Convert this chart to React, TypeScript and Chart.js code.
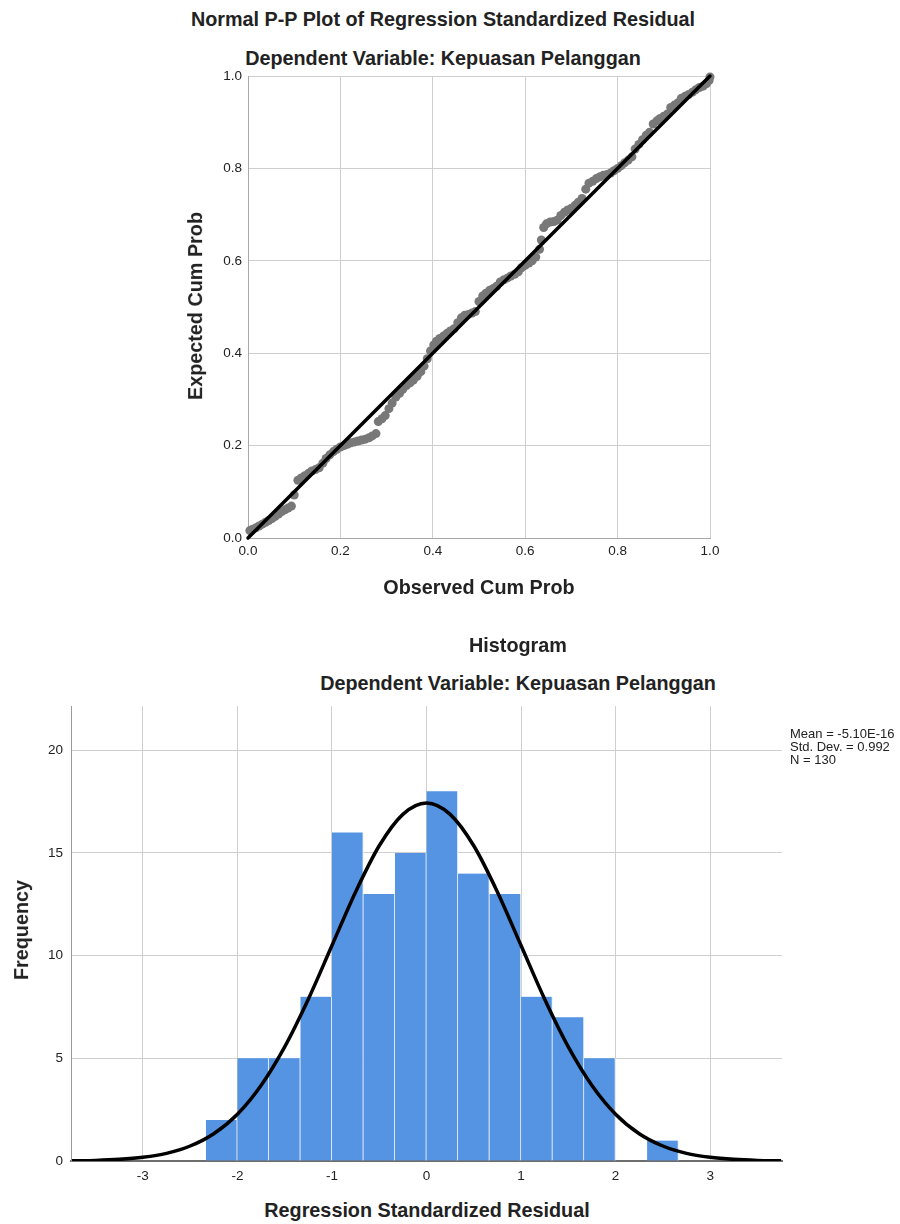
import React, { useEffect, useRef } from "react";
import { Chart, registerables } from "chart.js";

Chart.register(...registerables);

// ---------- P-P plot data ----------
const observedCumProb = [
  0.004, 0.01, 0.017, 0.024, 0.031, 0.038, 0.045, 0.052, 0.059, 0.066, 0.073, 0.08, 0.087, 0.094, 0.1,
  0.108, 0.115, 0.123, 0.131, 0.138, 0.146, 0.154, 0.162, 0.169, 0.177, 0.185, 0.192, 0.2, 0.208, 0.215, 0.223, 0.231,
  0.238, 0.246, 0.254, 0.262, 0.269, 0.277,
  0.282, 0.29, 0.297, 0.305, 0.312,
  0.32, 0.328, 0.335, 0.343, 0.351, 0.358, 0.366, 0.374, 0.381, 0.388,
  0.395, 0.402, 0.408, 0.415, 0.423, 0.431, 0.438, 0.446,
  0.454, 0.462, 0.469, 0.477, 0.485, 0.492,
  0.5, 0.508, 0.515, 0.523, 0.531, 0.538,
  0.546, 0.554, 0.562, 0.569, 0.577, 0.585,
  0.592, 0.6, 0.608, 0.615, 0.623, 0.631, 0.635,
  0.64, 0.646, 0.654, 0.662, 0.669,
  0.677, 0.685, 0.692, 0.7, 0.708, 0.715, 0.723,
  0.731, 0.738, 0.746, 0.754, 0.762, 0.769, 0.777, 0.785, 0.792,
  0.8, 0.808, 0.815, 0.823, 0.831,
  0.838, 0.846, 0.854, 0.862, 0.869,
  0.877, 0.885, 0.892, 0.9, 0.908,
  0.915, 0.923, 0.931,
  0.938, 0.946, 0.954, 0.962, 0.969, 0.977,
  0.985, 0.992, 0.998, 1.0,
];
const expectedCumProb = [
  0.016, 0.019, 0.022, 0.026, 0.03, 0.034, 0.038, 0.042, 0.047, 0.052, 0.057, 0.061, 0.065, 0.069, 0.093,
  0.125, 0.13, 0.135, 0.14, 0.145, 0.148, 0.152, 0.162, 0.172, 0.18, 0.187, 0.192, 0.197, 0.2, 0.203, 0.206, 0.208,
  0.21, 0.212, 0.214, 0.217, 0.221, 0.226,
  0.252, 0.258, 0.265, 0.28, 0.292,
  0.305, 0.313, 0.322, 0.33, 0.336, 0.342, 0.35, 0.36, 0.372, 0.388,
  0.405, 0.418, 0.426, 0.432, 0.437, 0.443, 0.448, 0.453,
  0.466, 0.477, 0.482, 0.484, 0.487, 0.49,
  0.512, 0.524, 0.53, 0.536, 0.54, 0.545,
  0.554, 0.559, 0.563, 0.567, 0.571, 0.576,
  0.585, 0.59, 0.595, 0.6, 0.608, 0.625, 0.645,
  0.672, 0.68, 0.684, 0.685, 0.688,
  0.698, 0.705, 0.71, 0.714, 0.72, 0.727, 0.735,
  0.755, 0.768, 0.772, 0.778, 0.782, 0.785, 0.787, 0.79, 0.795,
  0.8, 0.806, 0.812, 0.818, 0.825,
  0.842, 0.852, 0.862, 0.872, 0.878,
  0.896, 0.903, 0.908, 0.913, 0.918,
  0.932, 0.937, 0.942,
  0.952, 0.956, 0.96, 0.965, 0.97, 0.975,
  0.978, 0.983, 0.99, 0.998,
];
const refLineX = [0, 1];
const refLineY = [0, 1];

// ---------- Histogram data ----------
const binLowerEdges = [
  -2.3333, -2.0, -1.6667, -1.3333, -1.0, -0.6667, -0.3333, 0.0, 0.3333, 0.6667, 1.0, 1.3333, 1.6667, 2.0, 2.3333,
];
const binWidth = 1 / 3;
const frequencies = [2, 5, 5, 8, 16, 13, 15, 18, 14, 13, 8, 7, 5, 0, 1];
const curveX = [
  -3.75, -3.5, -3.25, -3.0, -2.75, -2.5, -2.25, -2.0, -1.75, -1.5, -1.25, -1.0, -0.75, -0.5, -0.25, 0,
  0.25, 0.5, 0.75, 1.0, 1.25, 1.5, 1.75, 2.0, 2.25, 2.5, 2.75, 3.0, 3.25, 3.5, 3.75,
];
const curveY = [
  0.01, 0.03, 0.08, 0.18, 0.37, 0.73, 1.33, 2.28, 3.68, 5.56, 7.88, 10.49, 13.1, 15.35, 16.88, 17.43,
  16.88, 15.35, 13.1, 10.49, 7.88, 5.56, 3.68, 2.28, 1.33, 0.73, 0.37, 0.18, 0.08, 0.03, 0.01,
];
const statsLines = ["Mean = -5.10E-16", "Std. Dev. = 0.992", "N = 130"];

const FONT = '"Liberation Sans", Arial, Helvetica, sans-serif';
const GRID = "#cfcfcf";
const TEXT = "#222222";
const TICK_SIZE = 13.5;

const boldText: React.CSSProperties = {
  position: "absolute",
  fontFamily: FONT,
  fontWeight: "bold",
  fontSize: 19.8,
  color: TEXT,
  whiteSpace: "nowrap",
  transform: "translate(-50%, -50%)",
  lineHeight: 1,
};

export default function App() {
  const ppRef = useRef<HTMLCanvasElement>(null);
  const histRef = useRef<HTMLCanvasElement>(null);

  useEffect(() => {
    document.body.style.margin = "0";
    Chart.defaults.font.family = FONT;

    const pp = new Chart(ppRef.current!, {
      type: "scatter",
      data: {
        datasets: [
          {
            type: "line",
            data: refLineX.map((x, i) => ({ x, y: refLineY[i] })),
            borderColor: "#000000",
            borderWidth: 3.5,
            pointRadius: 0,
            borderCapStyle: "round",
            clip: false as any,
            order: 0,
          } as any,
          {
            type: "scatter",
            data: observedCumProb.map((x, i) => ({ x, y: expectedCumProb[i] })),
            backgroundColor: "#787878",
            borderColor: "#787878",
            borderWidth: 0,
            pointRadius: 4.5,
            clip: false as any,
            order: 1,
          } as any,
        ],
      },
      options: {
        responsive: false,
        animation: false,
        layout: { padding: { left: 0, right: 40, top: 16, bottom: 0 } },
        plugins: { legend: { display: false }, tooltip: { enabled: false } },
        scales: {
          x: {
            type: "linear",
            min: 0,
            max: 1,
            afterFit: (s: any) => {
              s.height = 52;
            },
            grid: { color: GRID, drawTicks: false, lineWidth: 1 },
            border: { color: "#a8a8a8", width: 1 },
            ticks: {
              stepSize: 0.2,
              padding: 5,
              color: TEXT,
              font: { size: TICK_SIZE },
              callback: (v: any) => Number(v).toFixed(1),
            },
          },
          y: {
            type: "linear",
            min: 0,
            max: 1,
            afterFit: (s: any) => {
              s.width = 98;
            },
            grid: { color: GRID, drawTicks: false, lineWidth: 1 },
            border: { color: "#a8a8a8", width: 1 },
            ticks: {
              stepSize: 0.2,
              padding: 6,
              color: TEXT,
              font: { size: TICK_SIZE },
              callback: (v: any) => Number(v).toFixed(1),
            },
          },
        },
      },
    });

    const hist = new Chart(histRef.current!, {
      type: "bar",
      data: {
        datasets: [
          {
            type: "line",
            data: curveX.map((x, i) => ({ x, y: curveY[i] })),
            borderColor: "#000000",
            borderWidth: 3.5,
            pointRadius: 0,
            cubicInterpolationMode: "monotone",
            order: 0,
          } as any,
          {
            type: "bar",
            data: binLowerEdges.map((e, i) => ({ x: e + binWidth / 2, y: frequencies[i] })),
            backgroundColor: "#5594e3",
            borderColor: "#eaf1fb",
            borderWidth: { left: 0, right: 1.2, top: 0, bottom: 0 },
            borderSkipped: false,
            barPercentage: 1,
            categoryPercentage: 1,
            order: 1,
          } as any,
        ],
      },
      options: {
        responsive: false,
        animation: false,
        layout: { padding: { left: 0, right: 18, top: 10, bottom: 0 } },
        plugins: { legend: { display: false }, tooltip: { enabled: false } },
        scales: {
          x: {
            type: "linear",
            min: -3.76,
            max: 3.76,
            offset: false,
            afterFit: (s: any) => {
              s.height = 29;
            },
            grid: { color: GRID, drawTicks: false, offset: false, lineWidth: 1 },
            border: { color: "#6e6e6e", width: 2 },
            ticks: {
              stepSize: 1,
              includeBounds: false,
              padding: 7,
              color: TEXT,
              font: { size: TICK_SIZE },
              callback: (v: any) => String(v),
            },
          },
          y: {
            type: "linear",
            min: 0,
            max: 22.15,
            afterFit: (s: any) => {
              s.width = 71;
            },
            grid: { color: GRID, drawTicks: false, lineWidth: 1 },
            border: { color: "#9a9a9a", width: 1 },
            ticks: {
              stepSize: 5,
              includeBounds: false,
              padding: 8,
              color: TEXT,
              font: { size: TICK_SIZE },
            },
          },
        },
      },
    });

    return () => {
      pp.destroy();
      hist.destroy();
    };
  }, []);

  return (
    <div style={{ position: "relative", width: 900, height: 1224, background: "#ffffff", overflow: "hidden" }}>
      <div style={{ ...boldText, left: 443, top: 20 }}>Normal P-P Plot of Regression Standardized Residual</div>
      <div style={{ ...boldText, left: 443, top: 59 }}>Dependent Variable: Kepuasan Pelanggan</div>
      <canvas
        ref={ppRef}
        width={600}
        height={530}
        style={{ position: "absolute", left: 150, top: 60, width: 600, height: 530 }}
      />
      <div style={{ ...boldText, left: 196, top: 306, transform: "translate(-50%, -50%) rotate(-90deg)" }}>
        Expected Cum Prob
      </div>
      <div style={{ ...boldText, left: 479, top: 588 }}>Observed Cum Prob</div>

      <div style={{ ...boldText, left: 518, top: 646 }}>Histogram</div>
      <div style={{ ...boldText, left: 518, top: 684 }}>Dependent Variable: Kepuasan Pelanggan</div>
      <canvas
        ref={histRef}
        width={800}
        height={500}
        style={{ position: "absolute", left: 0, top: 690, width: 800, height: 500 }}
      />
      <div style={{ ...boldText, left: 22, top: 930, transform: "translate(-50%, -50%) rotate(-90deg)" }}>Frequency</div>
      <div style={{ ...boldText, left: 427, top: 1211 }}>Regression Standardized Residual</div>
      <div
        style={{
          position: "absolute",
          left: 790,
          top: 727,
          fontFamily: FONT,
          fontSize: 13,
          lineHeight: "13px",
          color: TEXT,
          whiteSpace: "nowrap",
        }}
      >
        {statsLines.map((s) => (
          <div key={s}>{s}</div>
        ))}
      </div>
    </div>
  );
}
